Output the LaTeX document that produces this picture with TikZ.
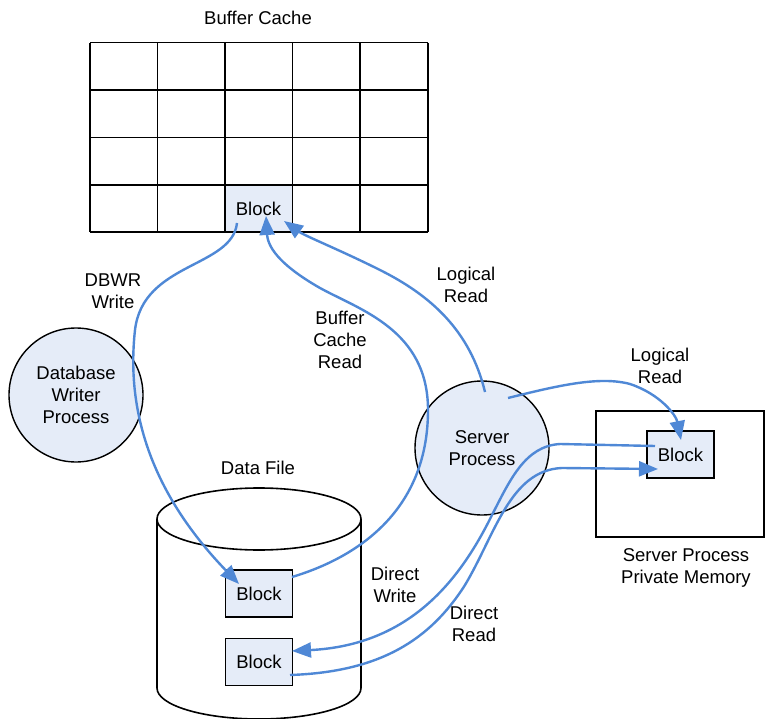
\documentclass[tikz,border=0pt]{standalone}
\usepackage{fontspec}
\setmainfont{Liberation Sans}
\usetikzlibrary{arrows.meta}
\definecolor{flowblue}{RGB}{79,136,214}
\definecolor{paleblue}{RGB}{229,236,248}
\tikzset{
  lbl/.style={align=center, inner sep=0pt, font=\fontsize{18.5}{22}\selectfont},
  blockbox/.style={draw=black, line width=1.6pt, fill=paleblue, minimum width=67pt, minimum height=47pt, inner sep=0pt, font=\fontsize{18.5}{22}\selectfont},
  proc/.style={circle, draw=black, line width=1.4pt, fill=paleblue, minimum size=134pt, inner sep=0pt, align=center, font=\fontsize{18.5}{22}\selectfont},
  flow/.style={draw=flowblue, line width=2.4pt, -{Triangle[length=19pt,width=15pt]}},
  outline/.style={draw=black, line width=1.6pt}
}
\begin{document}
\begin{tikzpicture}[x=1pt,y=-1pt]
\useasboundingbox (0,0) rectangle (768,719);
\fill[white] (0,0) rectangle (768,719);

% buffer cache grid with the highlighted block cell
\node[lbl] (cachetitle) at (258,18) {Buffer Cache};
\node[blockbox, draw=none, minimum width=67.5pt, minimum height=47.3pt] (cacheblock) at (258.5,208.7) {Block};
\foreach \xx in {90,157.6,225,292.4,360,428}
  \draw[outline] (\xx,42.7) -- (\xx,232.3);
\foreach \yy in {42.7,90,137.6,185,232.3}
  \draw[outline] (90,\yy) -- (428,\yy);

% database writer process
\node[proc] (dbwr) at (76,395) {Database\\Writer\\Process};

% data file cylinder
\node[lbl] (dftitle) at (258,468) {Data File};
\filldraw[outline, fill=white] (157,519) -- (157,688) arc[start angle=180, end angle=360, x radius=102, y radius=-31] -- (361,519);
\draw[outline, fill=white] (259,519) ellipse [x radius=102, y radius=31];
\node[blockbox] (dfblockA) at (259,593.5) {Block};
\node[blockbox] (dfblockB) at (259,662) {Block};

% server process and its private memory
\node[proc] (server) at (482,448) {Server\\Process};
\node[outline, minimum width=168pt, minimum height=126pt, inner sep=0pt] (privmem) at (680,474) {};
\node[blockbox] (pmblock) at (680.5,454.5) {Block};
\node[lbl] (pmtitle) at (686,568) {Server Process\\Private Memory};

% connector ends
\coordinate (dbwrStart) at (237,223);
\coordinate (bcrTip) at (266,216);
\coordinate (lrTip) at (284,221);
\coordinate (lrStart) at (485,392);
\coordinate (lr2Start) at (508,398);
\coordinate (lr2Tip) at (681,440);
\coordinate (dwStart) at (655,446);
\coordinate (dwTip) at (292,651);
\coordinate (drStart) at (290,675);
\coordinate (drTip) at (658,469);
\coordinate (bcrStart) at (292,577);
\coordinate (dbwrTip) at (239,584);

% DBWR write
\draw[flow] (dbwrStart) .. controls (232,268) and (143,262) .. (135,330)
  .. controls (125,420) and (158,500) .. (dbwrTip);
% buffer cache read
\draw[flow] (bcrStart) .. controls (365,555) and (428,505) .. (428,410)
  .. controls (428,330) and (360,310) .. (320,288)
  .. controls (285,268) and (268,250) .. (bcrTip);
% logical read into the cache
\draw[flow] (lrStart) .. controls (470,330) and (430,295) .. (380,270)
  .. controls (340,250) and (305,236) .. (lrTip);
% logical read into private memory
\draw[flow] (lr2Start) .. controls (560,385) and (600,376) .. (630,384)
  .. controls (660,394) and (676,415) .. (lr2Tip);
% direct write
\draw[flow] (dwStart) -- (560,444) .. controls (525,446) and (510,480) .. (492,515)
  .. controls (460,580) and (410,645) .. (dwTip);
% direct read
\draw[flow] (drStart) .. controls (380,672) and (430,640) .. (465,585)
  .. controls (495,535) and (510,470) .. (562,468) -- (drTip);

% connector labels
\node[lbl] (lblDbwr) at (113,291) {DBWR\\Write};
\node[lbl] (lblBcr) at (340,340) {Buffer\\Cache\\Read};
\node[lbl] (lblLr) at (466,285) {Logical\\Read};
\node[lbl] (lblLr2) at (660,366) {Logical\\Read};
\node[lbl] (lblDw) at (395,585) {Direct\\Write};
\node[lbl] (lblDr) at (474,624) {Direct\\Read};
\end{tikzpicture}
\end{document}
